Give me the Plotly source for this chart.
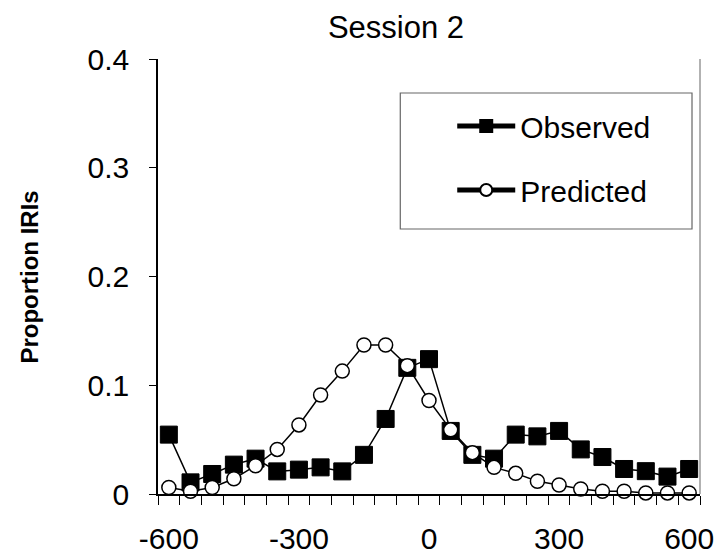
import plotly.graph_objects as go

x_vals = [-600, -550, -500, -450, -400, -350, -300, -250, -200, -150, -100, -50, 0,
          50, 100, 150, 200, 250, 300, 350, 400, 450, 500, 550, 600]
observed = [0.0546, 0.0107, 0.0184, 0.027, 0.0325, 0.0208, 0.0224, 0.0245, 0.0208, 0.036,
            0.069, 0.116, 0.124, 0.058, 0.036, 0.0325, 0.0546, 0.053, 0.058, 0.041,
            0.034, 0.023, 0.021, 0.016, 0.023]
predicted = [0.006, 0.0025, 0.006, 0.014, 0.026, 0.041, 0.0635, 0.091, 0.113, 0.137,
             0.137, 0.118, 0.086, 0.059, 0.038, 0.0245, 0.019, 0.0117, 0.0083, 0.0046,
             0.0025, 0.0025, 0.001, 0.001, 0.001]
x_ticks = [-600, -300, 0, 300, 600]
x_tick_text = ["-600", "-300", "0", "300", "600"]
y_ticks = [0, 0.1, 0.2, 0.3, 0.4]
y_tick_text = ["0", "0.1", "0.2", "0.3", "0.4"]
boundaries = [-625 + 50 * i for i in range(26)]

FONT = "Liberation Sans, Arial, sans-serif"

fig = go.Figure()
fig.add_trace(go.Scatter(
    x=x_vals, y=observed, name="Observed", mode="lines+markers",
    line=dict(color="black", width=1.5),
    marker=dict(symbol="square", size=17, color="black", line=dict(color="black", width=1)),
    cliponaxis=False, legendgroup="a"))
fig.add_trace(go.Scatter(
    x=x_vals, y=predicted, name="Predicted", mode="lines+markers",
    line=dict(color="black", width=1.5),
    marker=dict(symbol="circle", size=14, color="white", line=dict(color="black", width=1.5)),
    cliponaxis=False, legendgroup="b"))

fig.update_layout(
    width=723, height=559,
    margin=dict(l=157.5, r=23, t=59, b=65, autoexpand=False),
    paper_bgcolor="white", plot_bgcolor="white",
    font=dict(family=FONT, size=30, color="black"),
    title=dict(text="Session 2", x=396 / 723, xref="container", xanchor="center",
               y=1 - 27 / 559, yref="container", yanchor="middle",
               font=dict(family=FONT, size=31, color="black")),
    showlegend=True,
    legend=dict(x=(452 - 157.5) / 542.5, y=(494 - 100) / 435, xanchor="left", yanchor="top",
                bgcolor="rgba(0,0,0,0)", borderwidth=0, itemsizing="constant",
                itemwidth=58, tracegroupgap=22, traceorder="grouped",
                font=dict(family=FONT, size=30, color="black")),
    xaxis=dict(range=[-625, 625], tickmode="array", tickvals=x_ticks, ticktext=x_tick_text,
               ticks="outside", ticklen=0, showgrid=False, zeroline=False,
               showline=True, linecolor="black", linewidth=1.5, automargin=False,
               ticklabelstandoff=17,
               minor=dict(tickmode="array", tickvals=boundaries, ticks="outside",
                          ticklen=9, tickcolor="black", tickwidth=1, showgrid=False),
               tickfont=dict(family=FONT, size=30, color="black")),
    yaxis=dict(range=[0, 0.4], tickmode="array", tickvals=y_ticks, ticktext=y_tick_text,
               ticks="outside", ticklen=7, tickcolor="black", tickwidth=1,
               showgrid=False, zeroline=False, showline=True, linecolor="black", linewidth=1.5,
               ticklabelstandoff=14, automargin=False,
               tickfont=dict(family=FONT, size=30, color="black")),
    shapes=[
        dict(type="line", xref="paper", yref="paper", x0=1, x1=1, y0=0, y1=1,
             line=dict(color="#999999", width=1.5)),
        dict(type="rect", xref="paper", yref="paper",
             x0=(400 - 157.5) / 542.5, x1=(692 - 157.5) / 542.5,
             y0=(494 - 229) / 435, y1=(494 - 93) / 435,
             line=dict(color="#666666", width=1.2), fillcolor="rgba(0,0,0,0)"),
    ],
    annotations=[
        dict(text="<b>Proportion IRIs</b>", textangle=-90, xref="paper", yref="paper",
             x=(28 - 157.5) / 542.5, y=(494 - 277) / 435, xanchor="center", yanchor="middle",
             showarrow=False,
             font=dict(family="Liberation Sans Narrow, Arial Narrow, Liberation Sans, Arial",
                       size=24, color="black")),
    ],
)

fig.write_html("out.html")
